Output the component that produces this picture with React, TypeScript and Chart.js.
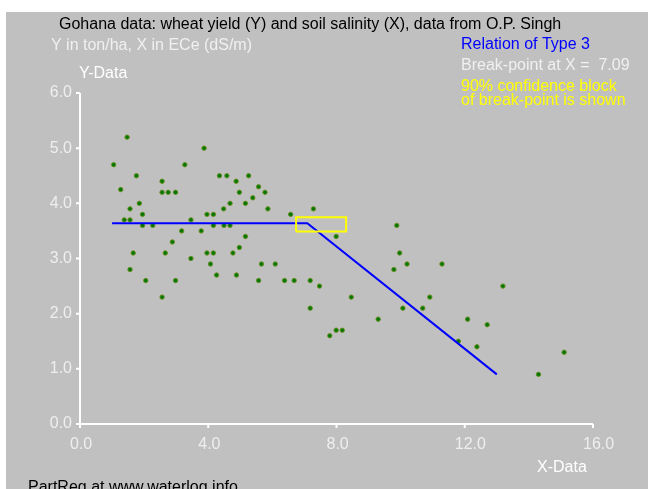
import React, { useEffect, useRef } from 'react';
import { Chart, registerables } from 'chart.js';

Chart.register(...registerables);

// Soil salinity ECe (dS/m)
const salinityX = [
  1.47, 3.87, 1.05, 3.27, 1.76, 2.56, 1.27, 2.56, 2.75, 2.98,
  1.85, 1.56, 1.95, 3.96, 1.38, 1.56, 3.46, 1.95, 2.27, 3.17,
  3.78, 2.88, 1.66, 2.66, 3.96, 3.46, 1.56, 2.05, 2.98, 2.56,
  4.35, 4.58, 5.26, 4.87, 5.57, 4.97, 5.77, 5.39, 4.68, 5.16,
  4.48, 5.86, 4.16, 6.57, 4.16, 4.49, 4.68, 5.16, 4.97, 4.16,
  4.77, 4.07, 5.66, 6.09, 4.26, 4.88, 5.57, 6.38, 6.68, 7.28,
  9.88, 7.99, 9.97, 10.2, 9.79, 7.18, 7.47, 8.46, 7.18, 10.07,
  9.3, 7.99, 8.18, 7.79, 11.29, 13.19, 10.91, 10.69, 12.09, 12.7,
  11.8, 12.38, 15.1, 14.3,
];
// Wheat yield (ton/ha)
const yieldY = [
  5.2, 5.0, 4.7, 4.7, 4.5, 4.4, 4.25, 4.2, 4.2, 4.2,
  4.0, 3.9, 3.8, 3.8, 3.7, 3.7, 3.7, 3.6, 3.6, 3.5,
  3.5, 3.3, 3.1, 3.1, 3.1, 3.0, 2.8, 2.6, 2.6, 2.3,
  4.5, 4.5, 4.5, 4.4, 4.3, 4.2, 4.2, 4.1, 4.0, 4.0,
  3.9, 3.9, 3.8, 3.8, 3.6, 3.6, 3.6, 3.4, 3.2, 3.1,
  3.1, 2.9, 2.9, 2.9, 2.7, 2.7, 2.6, 2.6, 2.6, 3.9,
  3.6, 3.4, 3.1, 2.9, 2.8, 2.6, 2.5, 2.3, 2.1, 2.1,
  1.9, 1.7, 1.7, 1.6, 2.9, 2.5, 2.3, 2.1, 1.9, 1.8,
  1.5, 1.4, 1.3, 0.9,
];

// Fitted relation of type 3 (break-point at X = 7.09)
const fitX = [1.0, 7.09, 13.0];
const fitY = [3.64, 3.64, 0.9];

// 90% confidence block of the break-point
const blockX = [6.74, 8.3, 8.3, 6.74, 6.74];
const blockY = [3.49, 3.49, 3.75, 3.75, 3.49];

const xTicks = [0, 4, 8, 12, 16];
const xTickLabels = ['0.0', '4.0', '8.0', '12.0', '16.0'];
const yTicks = [0, 1, 2, 3, 4, 5, 6];
const yTickLabels = ['0.0', '1.0', '2.0', '3.0', '4.0', '5.0', '6.0'];

const titleText = 'Gohana data: wheat yield (Y) and soil salinity (X), data from O.P. Singh';
const subtitleText = 'Y in ton/ha, X in ECe (dS/m)';
const relationText = 'Relation of Type 3';
const breakText = 'Break-point at X =  7.09';
const blockText1 = '90% confidence block';
const blockText2 = 'of break-point is shown';
const xAxisTitle = 'X-Data';
const yAxisTitle = 'Y-Data';
const footerText = 'PartReg at www.waterlog.info';

const FONT = "16px 'Liberation Sans', Arial, sans-serif";

const decorPlugin = {
  id: 'decor',
  beforeDraw(chart: any) {
    const ctx = chart.ctx;
    ctx.save();
    ctx.fillStyle = '#ffffff';
    ctx.fillRect(0, 0, chart.width, chart.height);
    ctx.fillStyle = '#c0c0c0';
    ctx.fillRect(6, 12, chart.width - 6, chart.height - 12);
    ctx.restore();
  },
  beforeDatasetsDraw(chart: any) {
    const ctx = chart.ctx;
    const xs = chart.scales.x;
    const ys = chart.scales.y;
    const x0 = xs.getPixelForValue(0);
    const x1 = xs.getPixelForValue(16);
    const y0 = ys.getPixelForValue(0);
    const y1 = ys.getPixelForValue(6);
    ctx.save();
    ctx.strokeStyle = '#ffffff';
    ctx.lineWidth = 2;
    ctx.beginPath();
    ctx.moveTo(x0, y1);
    ctx.lineTo(x0, y0 + 4);
    ctx.moveTo(x0 - 4, y0);
    ctx.lineTo(x1, y0);
    xTicks.forEach((v) => {
      const px = xs.getPixelForValue(v);
      ctx.moveTo(px, y0);
      ctx.lineTo(px, y0 + 4);
    });
    yTicks.forEach((v) => {
      const py = ys.getPixelForValue(v);
      ctx.moveTo(x0, py);
      ctx.lineTo(x0 - 4, py);
    });
    ctx.stroke();

    ctx.font = FONT;
    ctx.fillStyle = '#eeeeee';
    ctx.textBaseline = 'middle';
    ctx.textAlign = 'left';
    xTicks.forEach((v, i) => {
      const px = xs.getPixelForValue(v);
      ctx.fillText(xTickLabels[i], px - 10, y0 + 21);
    });
    ctx.textAlign = 'right';
    yTicks.forEach((v, i) => {
      const py = ys.getPixelForValue(v);
      ctx.fillText(yTickLabels[i], x0 - 8, py);
    });
    ctx.restore();
  },
  afterDraw(chart: any) {
    const ctx = chart.ctx;
    ctx.save();
    ctx.font = FONT;
    ctx.textAlign = 'left';
    ctx.textBaseline = 'alphabetic';
    const put = (t: string, x: number, y: number, c: string) => {
      ctx.fillStyle = c;
      ctx.fillText(t, x, y);
    };
    put(titleText, 59, 29, '#000000');
    put(subtitleText, 51, 50, '#f0f0f0');
    put(yAxisTitle, 79, 78, '#ffffff');
    put(relationText, 461, 49, '#0000ff');
    put(breakText, 461, 70, '#f0f0f0');
    put(blockText1, 461, 91, '#ffff00');
    put(blockText2, 461, 105, '#ffff00');
    put(xAxisTitle, 537, 472, '#ffffff');
    put(footerText, 28, 492, '#000000');
    ctx.restore();
  },
};

export default function App() {
  const ref = useRef<HTMLCanvasElement | null>(null);

  useEffect(() => {
    if (!ref.current) return;
    const points = salinityX.map((x, i) => ({ x, y: yieldY[i] }));
    const fit = fitX.map((x, i) => ({ x, y: fitY[i] }));
    const block = blockX.map((x, i) => ({ x, y: blockY[i] }));
    const chart = new Chart(ref.current, {
      type: 'scatter',
      data: {
        datasets: [
          {
            label: 'block',
            data: block,
            showLine: true,
            borderColor: '#ffff00',
            borderWidth: 2,
            pointRadius: 0,
            fill: false,
          } as any,
          {
            label: 'fit',
            data: fit,
            showLine: true,
            borderColor: '#0000ff',
            borderWidth: 2,
            pointRadius: 0,
            fill: false,
          } as any,
          {
            label: 'data',
            data: points,
            pointRadius: 2.2,
            pointBackgroundColor: '#007800',
            pointBorderColor: '#6b8e23',
            pointBorderWidth: 1,
          } as any,
        ],
      },
      options: {
        responsive: false,
        animation: false,
        devicePixelRatio: 1,
        layout: { padding: { left: 80, right: 55, top: 93, bottom: 65 } },
        plugins: { legend: { display: false }, tooltip: { enabled: false }, title: { display: false } },
        scales: {
          x: { type: 'linear', min: 0, max: 16, display: false },
          y: { type: 'linear', min: 0, max: 6, display: false },
        },
      } as any,
      plugins: [decorPlugin],
    });
    return () => chart.destroy();
  }, []);

  return (
    <div style={{ position: 'fixed', left: 0, top: 0, width: 648, height: 489, overflow: 'hidden' }}>
      <canvas ref={ref} width={648} height={489} style={{ display: 'block', width: 648, height: 489 }} />
    </div>
  );
}
